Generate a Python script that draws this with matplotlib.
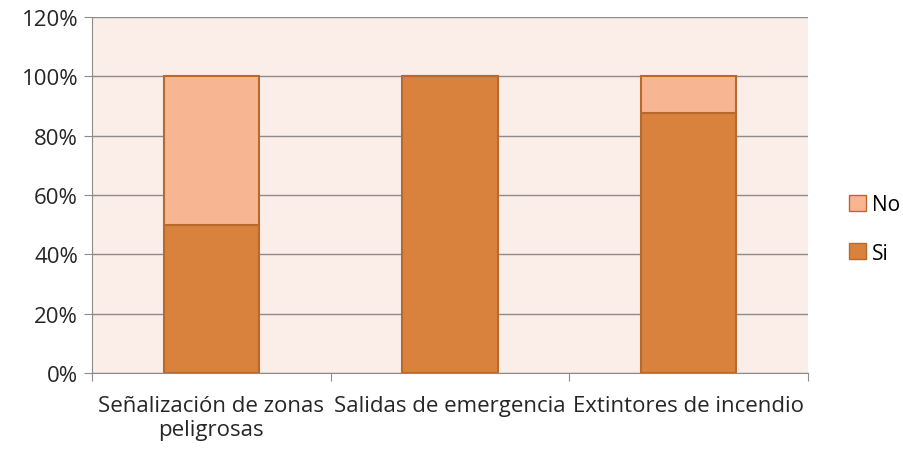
import matplotlib
matplotlib.use("Agg")
import matplotlib.pyplot as plt
from matplotlib.patches import Patch
from matplotlib.ticker import FuncFormatter, MultipleLocator
import numpy as np

categories = ["Señalización de zonas\npeligrosas", "Salidas de emergencia", "Extintores de incendio"]
si = [50, 100, 87.5]
no = [50, 0, 12.5]

plt.rcParams['font.family'] = ['Open Sans', 'DejaVu Sans']

fig = plt.figure(figsize=(9.04, 4.52), dpi=100)
ax = fig.add_axes([92/904, 1-374/452, 716/904, 356/452])
ax.set_facecolor('#FBEDE8')

x = np.arange(len(categories))
edge = '#B86A2E'
ax.bar(x, si, width=0.4, color='#D9823E', edgecolor=edge, linewidth=1.5, zorder=3)
ax.bar(x, no, bottom=si, width=0.4, color='#F8B591', edgecolor=edge, linewidth=1.5, zorder=3)

ax.set_xlim(-0.5, 2.5)
ax.set_ylim(0, 120)
ax.yaxis.set_major_locator(MultipleLocator(20))
ax.yaxis.set_major_formatter(FuncFormatter(lambda v, p: f"{int(v)}%"))
ax.grid(axis='y', color='#8C8C8C', linewidth=1, zorder=0)
ax.set_axisbelow(True)

ax.set_xticks([-0.5, 0.5, 1.5, 2.5])
ax.set_xticklabels([])
ax.set_xticks(x, minor=True)
ax.set_xticklabels(categories, minor=True, fontsize=16, color='#262626', linespacing=1.15)
ax.tick_params(axis='x', which='minor', length=0, pad=16)
ax.tick_params(axis='x', which='major', length=6, color='#8C8C8C', direction='out')
ax.tick_params(axis='y', length=6, color='#8C8C8C', labelsize=16, labelcolor='#262626', pad=4)

for s in ['top', 'right']:
    ax.spines[s].set_visible(False)
for s in ['left', 'bottom']:
    ax.spines[s].set_color('#8C8C8C')

handles = [Patch(facecolor='#F8B591', edgecolor=edge, label='No'),
           Patch(facecolor='#D9823E', edgecolor=edge, label='Si')]
fig.legend(handles=handles, loc='center left', bbox_to_anchor=(849/904, 1-230/452),
           frameon=False, fontsize=15, handlelength=0.8, handleheight=0.8,
           handletextpad=0.3, labelspacing=1.3, borderpad=0, borderaxespad=0)

fig.savefig("out.png", dpi=100, facecolor='white')
